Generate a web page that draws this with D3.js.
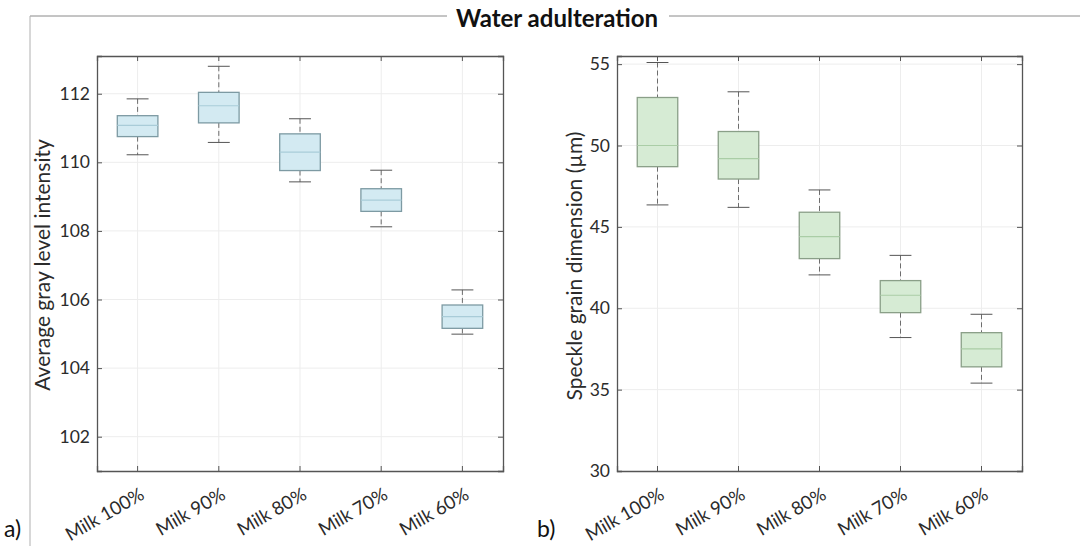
<!DOCTYPE html>
<html>
<head>
<meta charset="utf-8">
<script src="https://cdn.jsdelivr.net/npm/d3@7"></script>
<style>
  body { margin: 0; background: #fff; }
  svg text { font-family: Lato, "Open Sans", sans-serif; fill: #2b2b2b; }
</style>
</head>
<body>
<div id="chart"></div>
<script>
// categories shared by both panels
const categories = ["Milk 100%", "Milk 90%", "Milk 80%", "Milk 70%", "Milk 60%"];

// panel a) average gray level intensity
const grayHigh   = [111.85, 112.8, 111.27, 109.77, 106.28];
const grayQ3     = [111.36, 112.04, 110.83, 109.23, 105.84];
const grayMedian = [111.08, 111.65, 110.3, 108.9, 105.5];
const grayQ1     = [110.75, 111.15, 109.76, 108.57, 105.16];
const grayLow    = [110.22, 110.58, 109.43, 108.12, 104.99];
const grayTicks  = [102, 104, 106, 108, 110, 112];

// panel b) speckle grain dimension
const speckHigh   = [55.1, 53.3, 47.27, 43.25, 39.63];
const speckQ3     = [52.95, 50.86, 45.9, 41.7, 38.5];
const speckMedian = [50.0, 49.2, 44.4, 40.8, 37.5];
const speckQ1     = [48.7, 47.94, 43.05, 39.73, 36.4];
const speckLow    = [46.35, 46.2, 42.05, 38.2, 35.4];
const speckTicks  = [30, 35, 40, 45, 50, 55];

const W = 1080, H = 546;
const svg = d3.select('#chart').append('svg')
  .attr('width', W).attr('height', H);

// outer frame of the figure
svg.append('line').attr('x1', 30).attr('x2', W).attr('y1', 16).attr('y2', 16)
  .attr('stroke', '#8a8a8a').attr('stroke-width', 1);
svg.append('line').attr('x1', 30).attr('x2', 30).attr('y1', 16).attr('y2', H)
  .attr('stroke', '#b0b0b0').attr('stroke-width', 1);

// title
svg.append('rect').attr('x', 447).attr('y', 6).attr('width', 222).attr('height', 24).attr('fill', '#fff');
svg.append('text').attr('x', 557).attr('y', 27)
  .attr('text-anchor', 'middle').style('font-size', '24px').style('font-weight', 'bold')
  .style('fill', '#111').text('Water adulteration');

function panel(opt) {
  const g = svg.append('g');
  const x = d3.scaleBand().domain(categories).range([opt.x0, opt.x1]);
  const y = d3.scaleLinear().domain(opt.domain).range([opt.y1, opt.y0]);
  const bw = x.bandwidth();
  const cx = d => x(d) + bw / 2;

  // faint grid
  g.append('g').selectAll('line').data(opt.ticks.filter(t => y(t) > opt.y0 + 1 && y(t) < opt.y1 - 1))
    .join('line')
    .attr('x1', opt.x0).attr('x2', opt.x1)
    .attr('y1', d => y(d)).attr('y2', d => y(d))
    .attr('stroke', '#ededed');
  g.append('g').selectAll('line').data(categories).join('line')
    .attr('x1', cx).attr('x2', cx)
    .attr('y1', opt.y0).attr('y2', opt.y1)
    .attr('stroke', '#ededed');

  const stats = categories.map((c, i) => ({
    c, hi: opt.hi[i], q3: opt.q3[i], med: opt.med[i], q1: opt.q1[i], lo: opt.lo[i]
  }));

  const boxes = g.append('g').selectAll('g').data(stats).join('g');
  // whiskers
  boxes.append('line')
    .attr('x1', d => cx(d.c)).attr('x2', d => cx(d.c))
    .attr('y1', d => y(d.hi)).attr('y2', d => y(d.q3))
    .attr('stroke', '#6d6d6d').attr('stroke-dasharray', '5,3');
  boxes.append('line')
    .attr('x1', d => cx(d.c)).attr('x2', d => cx(d.c))
    .attr('y1', d => y(d.q1)).attr('y2', d => y(d.lo))
    .attr('stroke', '#6d6d6d').attr('stroke-dasharray', '5,3');
  // caps
  ['hi', 'lo'].forEach(k => {
    boxes.append('line')
      .attr('x1', d => cx(d.c) - bw * 0.135).attr('x2', d => cx(d.c) + bw * 0.135)
      .attr('y1', d => y(d[k])).attr('y2', d => y(d[k]))
      .attr('stroke', '#555');
  });
  // box
  boxes.append('rect')
    .attr('x', d => cx(d.c) - bw * 0.25).attr('width', bw * 0.5)
    .attr('y', d => y(d.q3)).attr('height', d => y(d.q1) - y(d.q3))
    .attr('fill', opt.fill).attr('stroke', opt.stroke).attr('stroke-width', 1.3);
  // median
  boxes.append('line')
    .attr('x1', d => cx(d.c) - bw * 0.25).attr('x2', d => cx(d.c) + bw * 0.25)
    .attr('y1', d => y(d.med)).attr('y2', d => y(d.med))
    .attr('stroke', opt.medColor).attr('stroke-width', 1.2);

  // axes, ticks pointing inward like the original
  const left = g.append('g').attr('transform', `translate(${opt.x0},0)`)
    .call(d3.axisLeft(y).tickValues(opt.ticks).tickSize(-5).tickPadding(7));
  const right = g.append('g').attr('transform', `translate(${opt.x1},0)`)
    .call(d3.axisRight(y).tickValues(opt.ticks).tickSize(-5).tickFormat(''));
  const bottom = g.append('g').attr('transform', `translate(0,${opt.y1})`)
    .call(d3.axisBottom(x).tickSize(-5).tickFormat(''));
  const top = g.append('g').attr('transform', `translate(0,${opt.y0})`)
    .call(d3.axisTop(x).tickSize(-5).tickFormat(''));
  [left, right, bottom, top].forEach(a => {
    a.select('.domain').attr('stroke', '#555').attr('stroke-width', 1.3);
    a.selectAll('.tick line').attr('stroke', '#555');
  });
  left.selectAll('text').style('font-size', '17.5px').style('fill', '#2b2b2b')
    .style('font-family', 'Lato, sans-serif');

  // rotated category labels
  g.append('g').selectAll('text').data(categories).join('text')
    .attr('transform', d => `translate(${cx(d) + 8},${opt.y1 + 27}) rotate(-30)`)
    .attr('text-anchor', 'end')
    .style('font-size', '18.5px')
    .text(d => d);

  // y label
  g.append('text')
    .attr('transform', `translate(${opt.labelX},${opt.labelY}) rotate(-90)`)
    .attr('text-anchor', 'middle')
    .style('font-size', '21px')
    .text(opt.label);

  g.append('text').attr('x', opt.tagX).attr('y', 537)
    .style('font-size', '23px').style('fill', '#111').text(opt.tag);
}

panel({
  x0: 97, x1: 503, y0: 56, y1: 471,
  domain: [101, 113.1], ticks: grayTicks,
  hi: grayHigh, q3: grayQ3, med: grayMedian, q1: grayQ1, lo: grayLow,
  fill: '#d3eaf2', stroke: '#7d9aa3', medColor: '#a9ccd8',
  label: 'Average gray level intensity', labelX: 50, labelY: 265, tagX: 4, tag: 'a)'
});

panel({
  x0: 617, x1: 1022, y0: 56, y1: 471,
  domain: [30, 55.5], ticks: speckTicks,
  hi: speckHigh, q3: speckQ3, med: speckMedian, q1: speckQ1, lo: speckLow,
  fill: '#d6ebd4', stroke: '#8a9f88', medColor: '#aacda6',
  label: 'Speckle grain dimension (\u00b5m)', labelX: 582, labelY: 266, tagX: 537, tag: 'b)'
});
</script>
</body>
</html>
